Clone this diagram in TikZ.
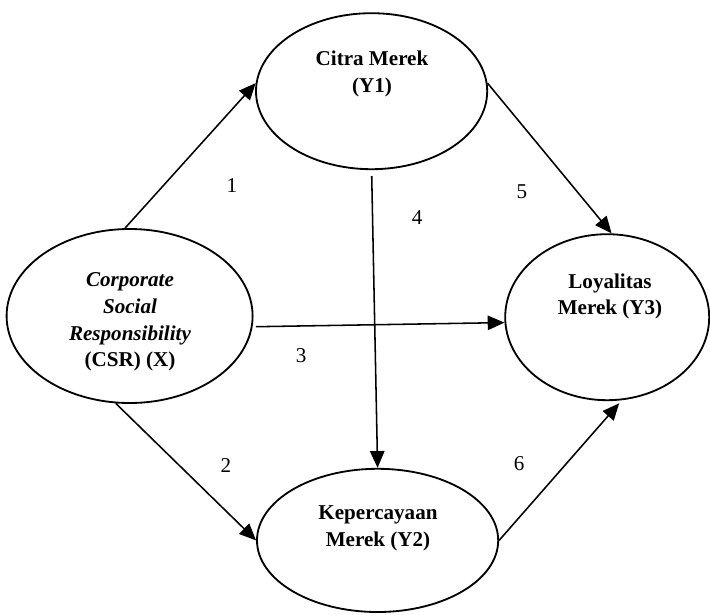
\documentclass[tikz,border=0pt]{standalone}
\usepackage{fontspec}
\setmainfont{Liberation Serif}
\usetikzlibrary{arrows.meta,shapes.geometric}
\tikzset{inner sep=0pt}

\begin{document}
\begin{tikzpicture}[
            var/.style={ellipse,draw,line width=1.3pt},
            varname/.style={align=center,font=\bfseries\fontsize{15}{19}\selectfont},
            path/.style={draw,line width=1.1pt,-{Triangle[length=0.42cm,width=0.36cm]}},
            num/.style={font=\fontsize{15}{19}\selectfont}
            ]
            \useasboundingbox (0,0) rectangle (17.75,-15.35);
            \node[var,minimum width=6.15cm,minimum height=4.35cm] (csr) at (3.24,-7.9) {};
            \node[var,minimum width=5.78cm,minimum height=3.9cm] (citra) at (9.29,-2.28) {};
            \node[var,minimum width=5.1cm,minimum height=4.15cm] (loyal) at (15.18,-7.93) {};
            \node[var,minimum width=6.03cm,minimum height=3.58cm] (kep) at (9.44,-13.51) {};
            \node[varname] (csrname) at (3.25,-8.05)
                {\textit{Corporate}\\ \textit{Social}\\ \textit{Responsibility}\\ (CSR) (X)};
            \node[varname] (citraname) at (9.3,-1.85) {Citra Merek\\ (Y1)};
            \node[varname] (loyalname) at (15.25,-7.41) {Loyalitas\\ Merek (Y3)};
            \node[varname] (kepname) at (9.45,-13.21) {Kepercayaan\\ Merek (Y2)};
            \draw[path] (csr.93) -- (citra.176);
            \draw[path] (csr.261) -- (kep.180);
            \draw[path,shorten <=0.08cm] (csr.-5) -- (loyal.183);
            \draw[path,shorten <=0.15cm] (citra.south) -- (kep.north);
            \draw[path] (citra.4) -- (loyal.87);
            \draw[path,shorten >=0.1cm] (kep.east) -- (loyal.280);
            \node[num] (n1) at (5.8,-4.63) {1};
            \node[num] (n2) at (5.65,-11.63) {2};
            \node[num] (n3) at (7.53,-8.9) {3};
            \node[num] (n4) at (10.43,-5.45) {4};
            \node[num] (n5) at (13.05,-4.78) {5};
            \node[num] (n6) at (12.98,-11.6) {6};
\end{tikzpicture}
\end{document}
